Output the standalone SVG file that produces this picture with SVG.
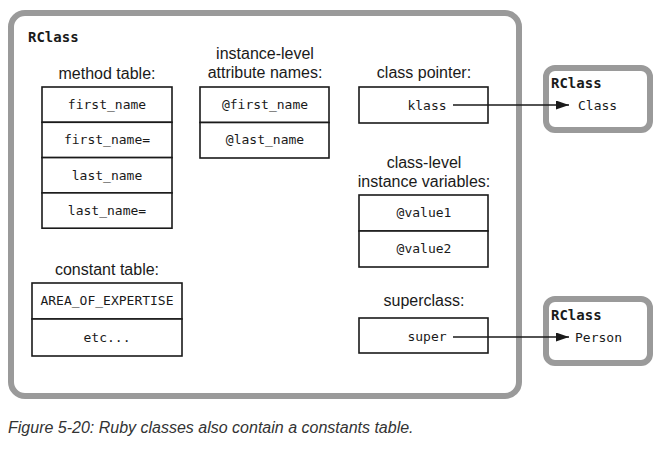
<svg xmlns="http://www.w3.org/2000/svg" width="661" height="450" viewBox="0 0 661 450">
<defs>
<style>
.frame{fill:#fff;stroke:#9a9a9a;stroke-width:6}
.cell{fill:#fff;stroke:#1a1a1a;stroke-width:1.6}
.title{font-family:"Liberation Sans","Noto Sans",sans-serif;font-size:16px;fill:#1a1a1a;text-anchor:middle}
.mono{font-family:"DejaVu Sans Mono","Liberation Mono",monospace;font-size:13px;fill:#1a1a1a;text-anchor:middle}
.monol{font-family:"DejaVu Sans Mono","Liberation Mono",monospace;font-size:13px;fill:#1a1a1a}
.head{font-family:"DejaVu Sans Mono","Liberation Mono",monospace;font-size:14px;font-weight:bold;fill:#1a1a1a}
.caption{font-family:"Liberation Sans","Noto Sans",sans-serif;font-size:16px;font-style:italic;fill:#333}
.conn{stroke:#1a1a1a;stroke-width:1.6;fill:none}
</style>
<marker id="arr" viewBox="0 0 13 9" refX="13" refY="4.5" markerWidth="13" markerHeight="9" markerUnits="userSpaceOnUse" orient="auto">
<path d="M0,0 L13,4.5 L0,9 z" fill="#1a1a1a"/>
</marker>
</defs>
<g id="rclass-main">
<rect class="frame" x="11" y="13" width="508" height="383" rx="14"/>
<text class="head" x="28" y="42">RClass</text>
</g>
<g id="method-table">
<text class="title" x="107" y="79">method table:</text>
<rect class="cell" x="42" y="87" width="130" height="35.3"/>
<rect class="cell" x="42" y="122.3" width="130" height="35.3"/>
<rect class="cell" x="42" y="157.6" width="130" height="35.3"/>
<rect class="cell" x="42" y="192.9" width="130" height="35.3"/>
<text class="mono" x="107" y="109">first_name</text>
<text class="mono" x="107" y="144">first_name=</text>
<text class="mono" x="107" y="180">last_name</text>
<text class="mono" x="107" y="215">last_name=</text>
</g>
<g id="attribute-names">
<text class="title" x="265" y="59">instance-level</text>
<text class="title" x="265" y="78">attribute names:</text>
<rect class="cell" x="200" y="87" width="129" height="35.5"/>
<rect class="cell" x="200" y="122.5" width="129" height="35.5"/>
<text class="mono" x="265" y="109">@first_name</text>
<text class="mono" x="265" y="144">@last_name</text>
</g>
<g id="class-pointer">
<text class="title" x="424" y="78">class pointer:</text>
<rect class="cell" x="359" y="87" width="129" height="36"/>
<text class="mono" x="427" y="110">klass</text>
</g>
<g id="class-level-vars">
<text class="title" x="424" y="168">class-level</text>
<text class="title" x="424" y="187">instance variables:</text>
<rect class="cell" x="359" y="195" width="129" height="36"/>
<rect class="cell" x="359" y="231" width="129" height="36"/>
<text class="mono" x="424" y="217">@value1</text>
<text class="mono" x="424" y="253">@value2</text>
</g>
<g id="superclass">
<text class="title" x="424" y="306">superclass:</text>
<rect class="cell" x="359" y="318" width="129" height="35"/>
<text class="mono" x="427" y="341">super</text>
</g>
<g id="constant-table">
<text class="title" x="107" y="275">constant table:</text>
<rect class="cell" x="32" y="283" width="150" height="36"/>
<rect class="cell" x="32" y="319" width="150" height="37"/>
<text class="mono" x="107" y="305">AREA_OF_EXPERTISE</text>
<text class="mono" x="107" y="342">etc...</text>
</g>
<g id="rclass-class">
<rect class="frame" x="546" y="68" width="104" height="62" rx="9"/>
<text class="head" x="551" y="88">RClass</text>
<text class="monol" x="578" y="110">Class</text>
</g>
<g id="rclass-person">
<rect class="frame" x="546" y="299" width="104" height="64" rx="9"/>
<text class="head" x="551" y="320">RClass</text>
<text class="monol" x="575" y="342">Person</text>
</g>
<g id="connectors">
<line class="conn" x1="453" y1="105" x2="569" y2="105" marker-end="url(#arr)"/>
<line class="conn" x1="453" y1="337" x2="569" y2="337" marker-end="url(#arr)"/>
</g>
<text class="caption" x="8" y="433">Figure 5-20: Ruby classes also contain a constants table.</text>
</svg>
